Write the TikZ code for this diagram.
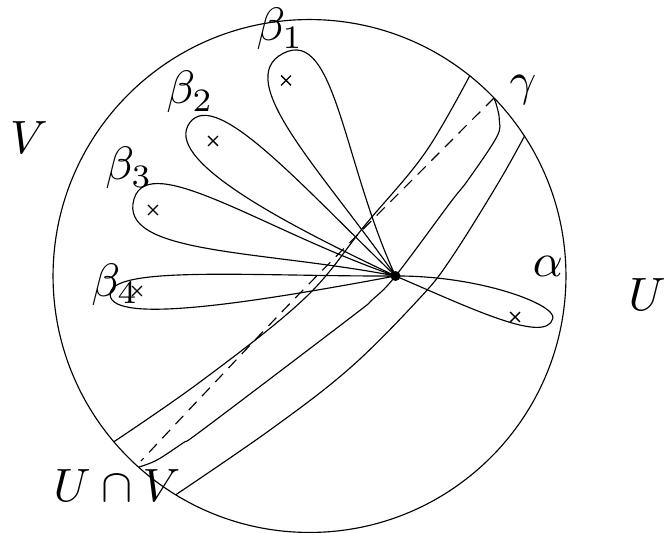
\documentclass[tikz,border=0pt]{standalone}
\usetikzlibrary{shapes.misc}
\begin{document}
\begin{tikzpicture}[x=0.02cm, y=-0.02cm, line width=0.65pt,
  lab/.style={scale=2.66, inner sep=0pt, anchor=base},
  xmark/.style={cross out, draw, minimum size=0.17cm, inner sep=0pt, line width=0.8pt},
  gdash/.style={dash pattern=on 6.5pt off 4.5pt},
  smoothline/.style={smooth, tension=0.6}]
\useasboundingbox (0,0) rectangle (668,533);
\coordinate (o) at (309.5,276);
\coordinate (b) at (395.5,276);
% disc
\draw (o) circle[radius=5.13cm];
% strip and gamma, clipped to the disc
\begin{scope}
\clip (o) circle[radius=5.13cm];
\draw plot[smoothline] coordinates {(478,60) (427,150) (366,224) (305,298) (200,382) (100,451)};
\draw plot[smoothline] coordinates {(532,122) (500,180) (450,260) (418,300) (350,368) (270,430) (165,502)};
\draw plot[smoothline] coordinates {(494,98) (497,107) (499.3,120) (496.7,137) (468,180) (450,203) (b) (372,300) (350,318) (205,428) (183,443) (157,460) (139,467)};
\draw[gdash] plot[smoothline] coordinates {(494,98) (442,150) (305,288) (203,395) (141,461)};
\end{scope}
% loops (local frame: x along the loop, y to its right)
\begin{scope}[shift={(b)}, rotate=116.7]
\draw (0,0) .. controls (124.7,4) and (249.4,58) .. (249.4,0) .. controls (249.4,-59.3) and (124.7,-17.7) .. (0,0);
\end{scope}
\begin{scope}[shift={(b)}, rotate=143.3]
\draw (0,0) .. controls (128.3,15.9) and (256.6,44) .. (256.6,0) .. controls (256.6,-45) and (128.3,-26) .. (0,0);
\end{scope}
\begin{scope}[shift={(b)}, rotate=163.6]
\draw (0,0) .. controls (136.3,6) and (272.6,52) .. (272.6,0) .. controls (272.6,-58) and (136.3,-12.9) .. (0,0);
\end{scope}
\begin{scope}[shift={(b)}, rotate=183.8]
\draw (0,0) .. controls (143,9) and (286,30) .. (286,0) .. controls (286,-30) and (143,-17) .. (0,0);
\end{scope}
\begin{scope}[shift={(b)}, rotate=-15.1]
\draw (0,0) .. controls (81.5,11.6) and (163,27) .. (163,0) .. controls (163,-14.3) and (81.5,-22.5) .. (0,0);
\end{scope}
% base point
\node[circle, fill, inner sep=0pt, minimum size=0.2cm] (dot) at (b) {};
% punctures
\node[xmark] (x1) at (286,80.5) {};
\node[xmark] (x2) at (213,141) {};
\node[xmark] (x3) at (153,210) {};
\node[xmark] (x4) at (137,291) {};
\node[xmark] (xa) at (515,317) {};
% labels
\node[lab] (lb1) at (280,41) {$\beta_1$};
\node[lab] (lb2) at (190,104) {$\beta_2$};
\node[lab] (lb3) at (129,180) {$\beta_3$};
\node[lab] (lb4) at (115,296) {$\beta_4$};
\node[lab] (la) at (548,276) {$\alpha$};
\node[lab] (lg) at (523,96) {$\gamma$};
\node[lab] (lV) at (29,154) {$V$};
\node[lab] (lU) at (647,310) {$U$};
\node[lab] (lUV) at (117,501) {$U\cap V$};
\end{tikzpicture}
\end{document}
